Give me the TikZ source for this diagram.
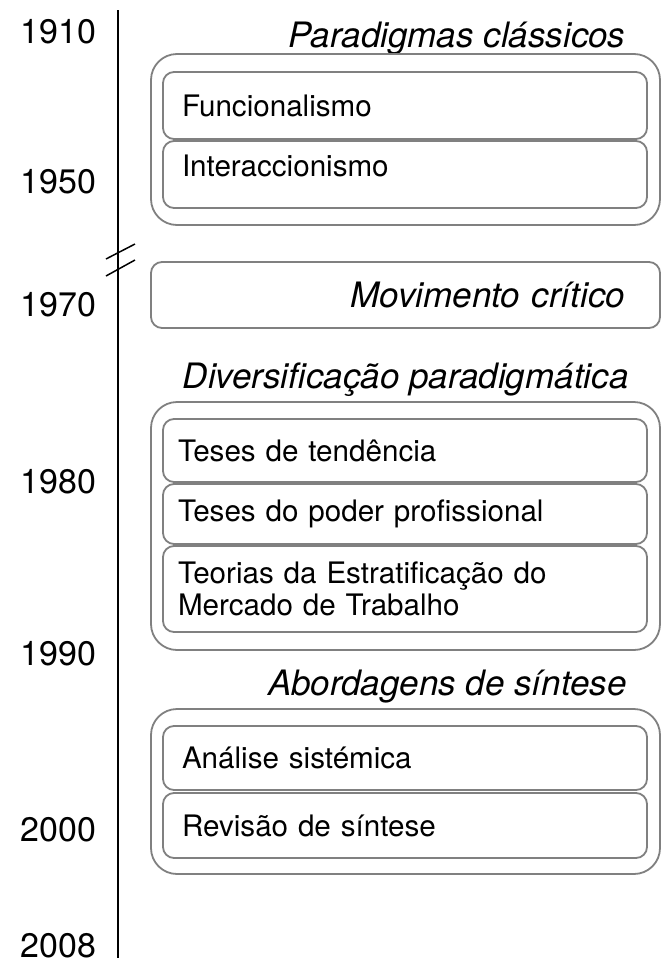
\documentclass[tikz,border=0pt]{standalone}
\usepackage{fontspec}
\setmainfont{TeX Gyre Heros}
\usepackage{tikz}

\begin{document}
\begin{tikzpicture}[x=1pt, y=-1pt,
	year/.style={anchor=base east, font=\fontsize{34}{40}\selectfont},
	phase/.style={anchor=base east, font=\fontsize{35}{40}\selectfont\itshape},
	group/.style={draw=black!50, line width=1.8pt, rounded corners=26pt, minimum width=509pt},
	theory/.style={draw=black!50, line width=1.8pt, rounded corners=11pt, minimum width=484pt, inner xsep=19pt, text width=446pt, align=left, font=\fontsize{29.6}{32}\selectfont}]
	\useasboundingbox (0,0) rectangle (667,972);
	% time axis with break
	\coordinate (top) at (117.5,10);
	\coordinate (bot) at (117.5,958);
	\draw[line width=2pt] (top) -- (bot);
	\coordinate (b1) at (106,259); \coordinate (b2) at (135,244);
	\coordinate (b3) at (106,276); \coordinate (b4) at (135,260);
	\draw[line width=1.5pt] (b1) -- (b2) (b3) -- (b4);
	\foreach \yr/\yb in {1910/43, 1950/193, 1970/316, 1980/493, 1990/665, 2000/841, 2008/957}
		\node[year] (y\yr) at (100,\yb) {\yr};
	% paradigmas classicos
	\node[phase] (pcT) at (629,47) {Paradigmas clássicos};
	\node[group, minimum height=171pt] (pc) at (405.5,139.5) {};
	\node[theory, minimum height=67pt] (func) at (405,105.5) {Funcionalismo};
	\node[theory, minimum height=67pt, text depth=18pt] (inter) at (405,174.5) {Interaccionismo};
	% movimento critico
	\node[group, minimum height=66pt, rounded corners=11pt, inner xsep=35pt, text width=439pt, align=right, font=\fontsize{35}{40}\selectfont\itshape] (mov) at (405.5,295) {Movimento crítico};
	% diversificacao
	\node[phase] (dpT) at (632,388) {Diversificação paradigmática};
	\node[group, minimum height=248pt] (dp) at (405.5,526) {};
	\node[theory, minimum height=63pt, inner xsep=15pt, text width=454pt] (tend) at (405,450.5) {Teses de tendência};
	\node[theory, minimum height=60pt, inner xsep=15pt, text width=454pt] (poder) at (405,514) {Teses do poder profissional};
	\node[theory, minimum height=86pt, inner xsep=15pt, text width=454pt] (estr) at (405,589) {Teorias da Estratificação do\\Mercado de Trabalho};
	% abordagens de sintese
	\node[phase] (asT) at (630,695) {Abordagens de síntese};
	\node[group, minimum height=165pt] (as) at (405.5,791.5) {};
	\node[theory, minimum height=64pt] (sist) at (405,758) {Análise sistémica};
	\node[theory, minimum height=65pt] (rev) at (405,825.5) {Revisão de síntese};
\end{tikzpicture}
\end{document}
